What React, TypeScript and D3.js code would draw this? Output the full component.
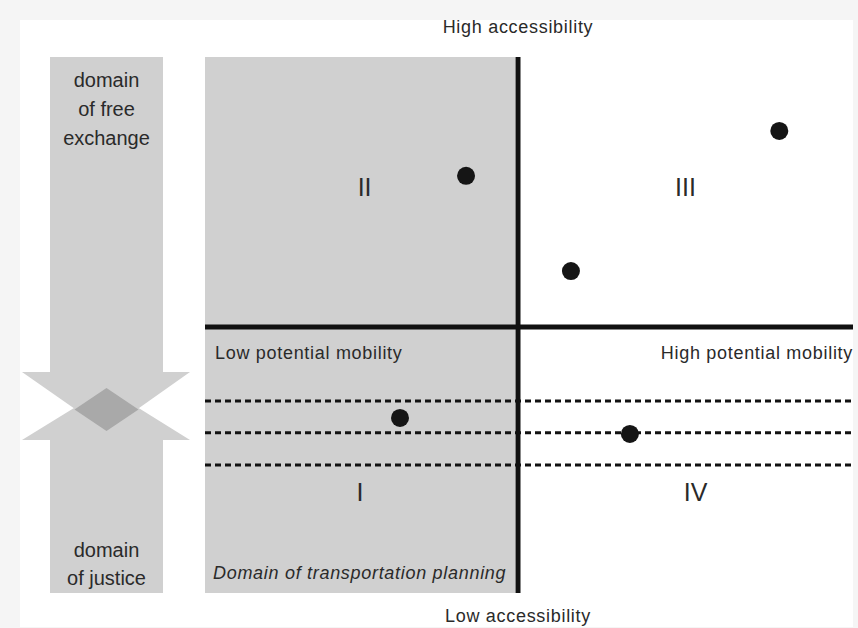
import React, { useEffect, useRef } from 'react';
import * as d3 from 'd3';

// Quadrant points (x: potential mobility, y: accessibility), both -1..1
const pointX = [-0.166, 0.78, 0.158, -0.377, 0.334];
const pointY = [0.56, 0.726, 0.207, -0.342, -0.402];

// Dashed bands in the low-accessibility half
const bandLevels = [-0.278, -0.398, -0.519];

const quadrantNames = ['II', 'III', 'I', 'IV'];
const quadrantX = [-0.49, 0.5, -0.505, 0.53];
const quadrantY = [0.52, 0.52, -0.62, -0.62];

const topWords = ['domain', 'of free', 'exchange'];
const bottomWords = ['domain', 'of justice'];

const QuadrantChart: React.FC = () => {
  const svgRef = useRef<SVGSVGElement>(null);

  useEffect(() => {
    if (!svgRef.current) return;
    d3.select(svgRef.current).selectAll('*').remove();

    const width = 858;
    const height = 628;
    const font = '"Liberation Sans", Arial, sans-serif';
    const ink = '#2a2a2a';

    const svg = d3.select(svgRef.current)
      .attr('width', width)
      .attr('height', height);

    // frame
    svg.append('rect').attr('width', width).attr('height', height).attr('fill', '#f5f5f5');
    svg.append('rect').attr('x', 20).attr('y', 20).attr('width', 833).attr('height', 607).attr('fill', '#fff');

    const x = d3.scaleLinear().domain([-1, 0, 1]).range([205, 518, 853]);
    const y = d3.scaleLinear().domain([-1, 0, 1]).range([593, 327, 57]);

    // shaded left half
    svg.append('rect')
      .attr('x', x(-1)).attr('y', y(1))
      .attr('width', x(0) - 3 - x(-1)).attr('height', y(-1) - y(1))
      .attr('fill', '#d0d0d0');

    // left double arrow
    const ax0 = 50, ax1 = 163, cx = (ax0 + ax1) / 2;
    const hx0 = 22, hx1 = 190;
    const downBase = 372, downTip = 431, upBase = 440, upTip = 388;
    const arrowTop = y(1), arrowBottom = y(-1);
    const line = d3.line();
    svg.append('path')
      .attr('d', line([[ax0, arrowTop], [ax1, arrowTop], [ax1, downBase], [hx1, downBase], [cx, downTip], [hx0, downBase], [ax0, downBase]]) + 'Z')
      .attr('fill', '#d0d0d0');
    svg.append('path')
      .attr('d', line([[ax0, arrowBottom], [ax1, arrowBottom], [ax1, upBase], [hx1, upBase], [cx, upTip], [hx0, upBase], [ax0, upBase]]) + 'Z')
      .attr('fill', '#d0d0d0');
    // overlap diamond
    svg.append('path')
      .attr('d', line([[cx, upTip], [cx + 32, (upTip + downTip) / 2], [cx, downTip], [cx - 32, (upTip + downTip) / 2]]) + 'Z')
      .attr('fill', '#a9a9a9');

    svg.append('g').selectAll('text').data(topWords).enter().append('text')
      .attr('x', cx).attr('y', (d, i) => 87 + i * 29)
      .attr('text-anchor', 'middle').style('font-family', font).style('font-size', '20px')
      .attr('fill', ink).text(d => d);
    svg.append('g').selectAll('text').data(bottomWords).enter().append('text')
      .attr('x', cx).attr('y', (d, i) => 557 + i * 28)
      .attr('text-anchor', 'middle').style('font-family', font).style('font-size', '20px')
      .attr('fill', ink).text(d => d);

    // dashed bands
    svg.append('g').selectAll('line').data(bandLevels).enter().append('line')
      .attr('x1', x(-1)).attr('x2', x(1))
      .attr('y1', d => y(d)).attr('y2', d => y(d))
      .attr('stroke', '#111').attr('stroke-width', 3)
      .attr('stroke-dasharray', '6,4');

    // axes
    svg.append('line')
      .attr('x1', x(0)).attr('x2', x(0)).attr('y1', y(1)).attr('y2', y(-1))
      .attr('stroke', '#111').attr('stroke-width', 5);
    svg.append('line')
      .attr('x1', x(-1)).attr('x2', x(1)).attr('y1', y(0)).attr('y2', y(0))
      .attr('stroke', '#111').attr('stroke-width', 5);

    // points
    svg.append('g').selectAll('circle').data(pointX).enter().append('circle')
      .attr('cx', d => x(d)).attr('cy', (d, i) => y(pointY[i]))
      .attr('r', 9).attr('fill', '#151515');

    // quadrant numerals
    svg.append('g').selectAll('text').data(quadrantNames).enter().append('text')
      .attr('x', (d, i) => x(quadrantX[i])).attr('y', (d, i) => y(quadrantY[i]) + 9)
      .attr('text-anchor', 'middle').style('font-family', font).style('font-size', '25px')
      .attr('fill', ink).text(d => d);

    const label = (tx: number, ty: number, txt: string, anchor: string, italic = false) =>
      svg.append('text').attr('x', tx).attr('y', ty).attr('text-anchor', anchor)
        .style('font-family', font).style('font-size', '18px')
        .style('letter-spacing', '0.7px')
        .style('font-style', italic ? 'italic' : 'normal')
        .attr('fill', ink).text(txt);

    label(x(0), 33, 'High accessibility', 'middle');
    label(x(0), 622, 'Low accessibility', 'middle');
    label(x(-1) + 10, y(0) + 32, 'Low potential mobility', 'start');
    label(x(1), y(0) + 32, 'High potential mobility', 'end');
    label(x(-1) + 8, 579, 'Domain of transportation planning', 'start', true);
  }, []);

  return (
    <div style={{ position: 'absolute', left: 0, top: 0 }}>
      <svg ref={svgRef} />
    </div>
  );
};

export default function App() {
  return <QuadrantChart />;
}
